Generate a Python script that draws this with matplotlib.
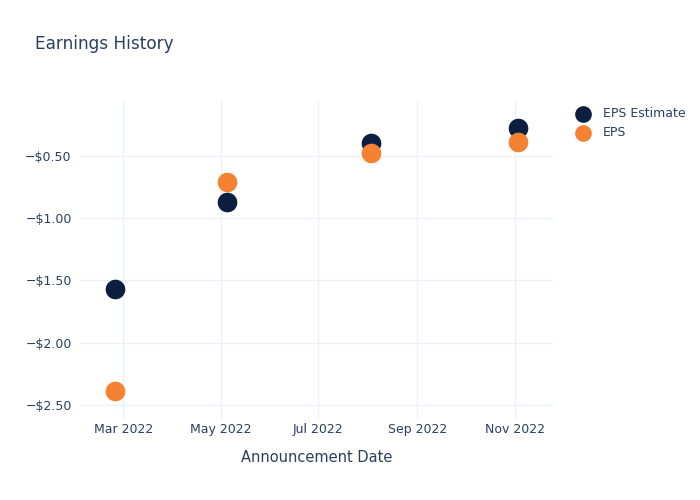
import matplotlib
matplotlib.use("Agg")
import matplotlib.pyplot as plt
import matplotlib.dates as mdates
import pandas as pd

dates = pd.to_datetime(["2022-02-24", "2022-05-05", "2022-08-03", "2022-11-03"])
eps_estimate = [-1.57, -0.87, -0.40, -0.28]
eps_actual = [-2.39, -0.71, -0.48, -0.39]
y_ticks = [-2.5, -2.0, -1.5, -1.0, -0.5]

text_color = "#2a3f5f"
grid_color = "#ebf0f8"
navy = "#0c1f40"
orange = "#f58233"

fig = plt.figure(figsize=(7, 5), dpi=100)
ax = fig.add_axes([0.1143, 0.16, 0.676, 0.64])

ax.scatter(dates, eps_estimate, s=200, color=navy, label="EPS Estimate", zorder=3, linewidths=0)
ax.scatter(dates, eps_actual, s=200, color=orange, label="EPS", zorder=4, linewidths=0)

ax.set_xlim(pd.Timestamp("2022-02-02"), pd.Timestamp("2022-11-25"))
ax.set_ylim(-2.621, -0.053)

ax.xaxis.set_major_locator(mdates.MonthLocator(bymonth=[3, 5, 7, 9, 11]))
ax.xaxis.set_major_formatter(mdates.DateFormatter("%b %Y"))
ax.set_yticks(y_ticks)
ax.set_yticklabels([f"\u2212${abs(v):.2f}" for v in y_ticks])

ax.grid(True, color=grid_color, linewidth=1)
ax.set_axisbelow(True)
for s in ax.spines.values():
    s.set_visible(False)
ax.tick_params(length=0, colors=text_color, labelsize=9, pad=6)
ax.tick_params(axis="x", pad=2)

ax.set_xlabel("Announcement Date", color=text_color, fontsize=10.5, labelpad=10)
fig.text(35 / 700, 1 - 44 / 500, "Earnings History", color=text_color,
         fontsize=12.2, va="center", ha="left")

leg = ax.legend(loc="upper left", bbox_to_anchor=(1.027, 0.993), frameon=False,
                fontsize=9, handletextpad=0.55, labelspacing=0.5,
                borderaxespad=0, markerscale=0.85)
for t in leg.get_texts():
    t.set_color(text_color)

fig.savefig("out.png", dpi=100)
